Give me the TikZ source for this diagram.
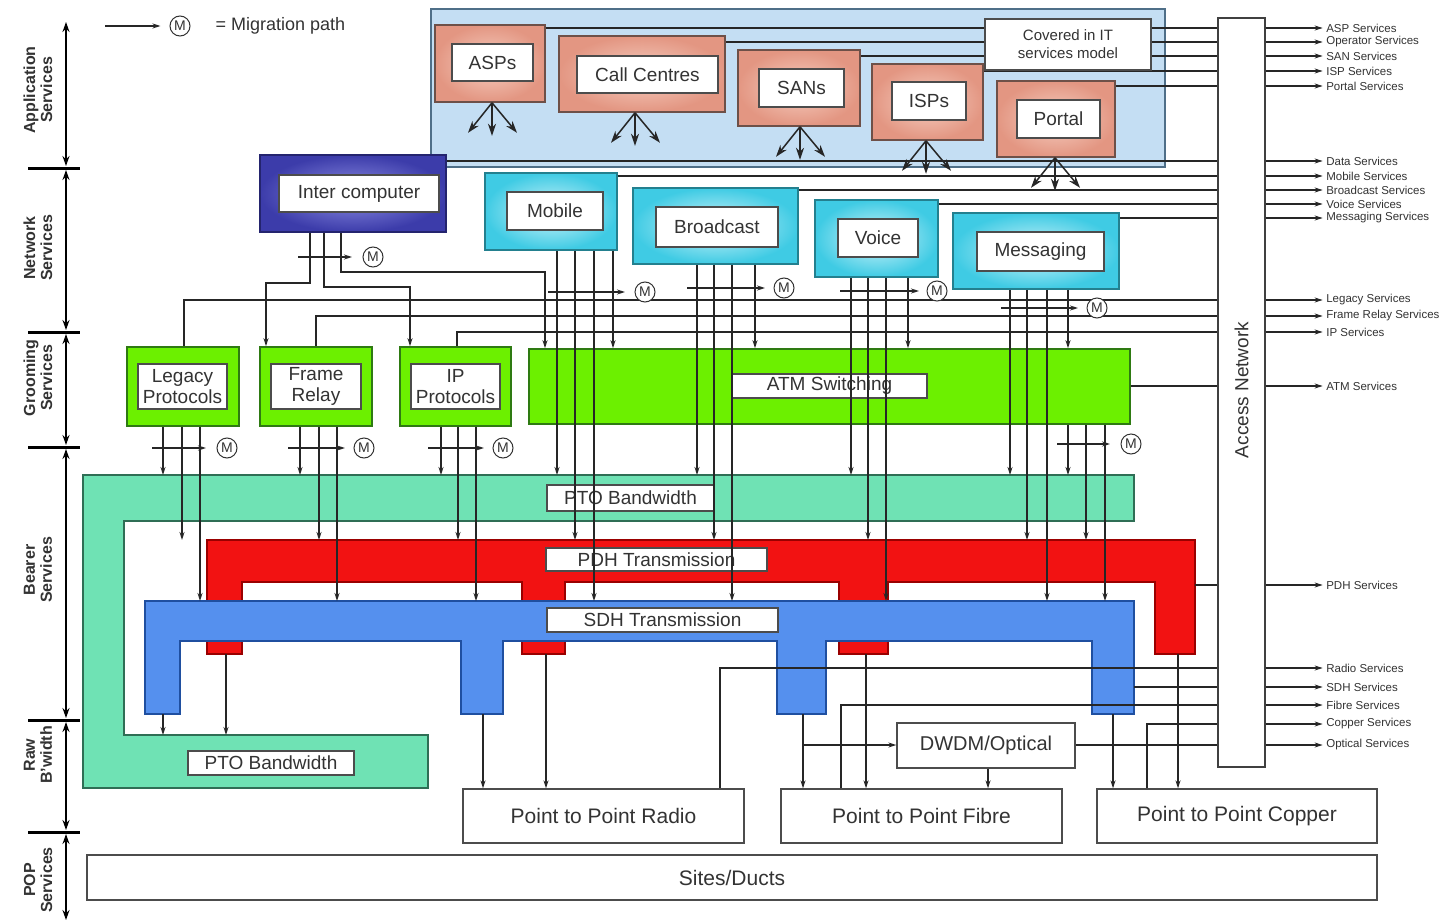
\documentclass[tikz,border=0pt]{standalone}
\usepackage{fontspec}
\setmainfont{Liberation Sans}
\usetikzlibrary{arrows.meta,fit}
\definecolor{appbg}{HTML}{C4DEF3}
\definecolor{appbd}{HTML}{4F6F88}
\definecolor{salm}{HTML}{E39682}
\definecolor{salmi}{HTML}{F6CFC2}
\definecolor{salmd}{HTML}{6E5048}
\definecolor{cyanf}{HTML}{3FCBE4}
\definecolor{cyani}{HTML}{D2F4FA}
\definecolor{cyand}{HTML}{23808F}
\definecolor{interf}{HTML}{3C3CAA}
\definecolor{interi}{HTML}{9090E4}
\definecolor{interd}{HTML}{24246E}
\definecolor{grn}{HTML}{6CF000}
\definecolor{grnd}{HTML}{2E7A12}
\definecolor{ptof}{HTML}{6FE2B4}
\definecolor{ptod}{HTML}{2F6E55}
\definecolor{pdhf}{HTML}{F21212}
\definecolor{pdhd}{HTML}{9A0000}
\definecolor{sdhf}{HTML}{5590EE}
\definecolor{sdhd}{HTML}{1F4FA0}
\definecolor{txt}{HTML}{333333}
\newcommand\myfs[2]{\fontsize{#1}{#2}\selectfont}
\newcommand\mig[5]{\draw[arr] (#2,#1) -- (#3,#1); \node[mc] (#5) at (#4,#1) {M};}
\newcommand\fk[2]{\foreach \dx/\dy in {-24/30,0/33,25/30}{\draw[fork] (#1.south -| #2,0) -- ++(\dx,\dy);}}
\newcommand\tbox[5][]{\node[wb,fit={(#3)(#4)}] (#2) {}; \node[wbt,#1] (#2T) at (#2.center) {#5};}
\begin{document}
\begin{tikzpicture}[x=1pt,y=-1pt,
  ln/.style={line width=1.3pt, draw=black!85},
  arr/.style={ln, -{Stealth[length=8pt,width=5pt]}},
  fork/.style={line width=1.5pt, draw=black!85, -{Stealth[length=12pt,width=8pt]}},
  bx/.style={draw, inner sep=0pt, line width=1.6pt},
  wb/.style={bx, fill=white, draw=black!70, line width=1.3pt},
  wbt/.style={inner sep=0pt, font=\myfs{19}{21}, align=center, text=txt},
  salmbox/.style={bx, inner color=salmi, outer color=salm, draw=salmd},
  cybox/.style={bx, inner color=cyani, outer color=cyanf, draw=cyand},
  grbox/.style={bx, fill=grn, draw=grnd},
  mc/.style={circle, draw=black!80, fill=white, line width=1pt, inner sep=0pt, minimum size=20pt, font=\myfs{14}{14}, text=txt},
  svc/.style={anchor=west, font=\myfs{11.5}{12}, inner sep=3pt, text=txt},
  axl/.style={rotate=90, font=\bfseries\myfs{16}{17}, align=center, text=txt},
  axa/.style={line width=2.4pt, {Stealth[length=10pt,width=7pt]}-{Stealth[length=10pt,width=7pt]}}
]
\fill[white] (0,0) rectangle (1450,923);
\useasboundingbox (0,0) rectangle (1450,923);

% ---- left axis
\foreach \y in {168,332,447,720,832}{\draw[line width=3pt] (28,\y) -- (80,\y);}
\draw[axa] (66,22) -- (66,166);
\draw[axa] (66,170) -- (66,330);
\draw[axa] (66,334) -- (66,445);
\draw[axa] (66,449) -- (66,718);
\draw[axa] (66,722) -- (66,830);
\draw[axa] (66,834) -- (66,920);
\node[axl] (ax1) at (38,90) {Application\\Services};
\node[axl] (ax2) at (38,248) {Network\\Services};
\node[axl] (ax3) at (38,378) {Grooming\\Services};
\node[axl] (ax4) at (38,570) {Bearer\\Services};
\node[axl] (ax5) at (38,755) {Raw\\B'width};
\node[axl] (ax6) at (38,880) {POP\\Services};

% ---- legend
\node[mc] (legM) at (180,26) {M};
\coordinate (legS) at (105,26);
\draw[arr] (legS) -- ([xshift=-9pt]legM.west);
\node[anchor=west, font=\myfs{18}{20}, text=txt] (legT) at (212,26) {= Migration path};

% ---- access network
\node[bx, fill=white, draw=black!75, line width=1.3pt, fit={(1218,18)(1265,767)}] (acc) {};
\node[rotate=90, font=\myfs{19}{20}, text=txt] (accT) at (1241.5,390) {Access Network};

% ---- application services
\node[bx, fill=appbg, draw=appbd, fit={(431,9)(1165,167)}] (app) {};
\node[salmbox, fit={(435,25)(545,102)}] (asp) {};
\tbox{aspL}{452,44}{533,81}{ASPs}
\node[salmbox, fit={(559,36)(725,112)}] (cc) {};
\tbox{ccL}{577,56}{718,93}{Call Centres}
\node[salmbox, fit={(738,50)(860,126)}] (san) {};
\tbox{sanL}{759,69}{844,107}{SANs}
\node[salmbox, fit={(872,64)(983,140)}] (isp) {};
\tbox{ispL}{892,82}{966,120}{ISPs}
\node[salmbox, fit={(997,81)(1115,157)}] (portal) {};
\tbox{portalL}{1017,100}{1100,138}{Portal}
\fk{asp}{492}
\fk{cc}{635}
\fk{san}{800}
\fk{isp}{926}
\fk{portal}{1055}
\draw[ln] (asp.east |- 0,28) -- (acc.west |- 0,28);
\draw[ln] (cc.east |- 0,42) -- (acc.west |- 0,42);
\draw[ln] (san.east |- 0,56) -- (acc.west |- 0,56);
\draw[ln] (isp.east |- 0,71) -- (acc.west |- 0,71);
\draw[ln] (portal.east |- 0,86) -- (acc.west |- 0,86);
\tbox[font=\myfs{15}{18}]{cov}{985,19}{1151,70}{Covered in IT\\services model}

% ---- network services
\node[bx, inner color=interi, outer color=interf, draw=interd, fit={(260,155)(446,232)}] (inter) {};
\tbox{interL}{279,175}{439,212}{Inter computer}
\node[cybox, fit={(485,173)(617,250)}] (mob) {};
\tbox{mobL}{507,192}{603,230}{Mobile}
\node[cybox, fit={(633,188)(798,264)}] (brd) {};
\tbox{brdL}{656,207}{778,247}{Broadcast}
\node[cybox, fit={(815,200)(938,277)}] (voi) {};
\tbox{voiL}{838,219}{918,257}{Voice}
\node[cybox, fit={(953,213)(1119,289)}] (msg) {};
\tbox{msgL}{977,232}{1104,271}{Messaging}
\draw[ln] (inter.east |- 0,161) -- (acc.west |- 0,161);
\draw[ln] (mob.east |- 0,176) -- (acc.west |- 0,176);
\draw[ln] (brd.east |- 0,190) -- (acc.west |- 0,190);
\draw[ln] (voi.east |- 0,204) -- (acc.west |- 0,204);
\draw[ln] (msg.east |- 0,218) -- (acc.west |- 0,218);

% ---- bearer services
\coordinate (ptoT) at (0,475);
\coordinate (ptoB) at (0,735);
\coordinate (pdhT) at (0,540);
\coordinate (sdhT) at (0,601);
\filldraw[fill=ptof, draw=ptod, line width=1.5pt] (83,475) -- (1134,475) -- (1134,521) -- (124,521) -- (124,735) -- (428,735) -- (428,788) -- (83,788) -- cycle;
\tbox{ptoL1}{547,485}{714,511}{PTO Bandwidth}
\tbox{ptoL2}{188,751}{354,775}{PTO Bandwidth}
\filldraw[fill=pdhf, draw=pdhd, line width=1.2pt] (207,540) -- (1195,540) -- (1195,654) -- (1155,654) -- (1155,582) -- (888,582) -- (888,654) -- (839,654) -- (839,582) -- (565,582) -- (565,654) -- (522,654) -- (522,582) -- (242,582) -- (242,654) -- (207,654) -- cycle;
\tbox{pdhL}{546,548}{767,571}{PDH Transmission}
\filldraw[fill=sdhf, draw=sdhd, line width=1.2pt] (145,601) -- (1134,601) -- (1134,714) -- (1092,714) -- (1092,641) -- (826,641) -- (826,714) -- (777,714) -- (777,641) -- (503,641) -- (503,714) -- (461,714) -- (461,641) -- (180,641) -- (180,714) -- (145,714) -- cycle;
\tbox{sdhL}{547,608}{778,632}{SDH Transmission}

% ---- grooming services
\node[grbox, fit={(127,347)(239,426)}] (leg) {};
\tbox{legL}{138,364}{227,409}{Legacy\\Protocols}
\node[grbox, fit={(260,347)(372,426)}] (fr) {};
\tbox{frL}{271,364}{361,409}{Frame\\Relay}
\node[grbox, fit={(400,347)(511,426)}] (ipp) {};
\tbox{ippL}{411,364}{500,409}{IP\\Protocols}
\node[grbox, fit={(529,349)(1130,424)}] (atm) {};
\tbox{atmL}{732,374}{927,398}{ATM Switching}

% ---- raw bandwidth / POP
\tbox[font=\myfs{21}{22}]{radio}{463,789}{744,843}{Point to Point Radio}
\tbox[font=\myfs{21}{22}]{fibre}{781,789}{1062,843}{Point to Point Fibre}
\tbox[font=\myfs{21}{22}]{copper}{1097,789}{1377,843}{Point to Point Copper}
\tbox[font=\myfs{21}{22}]{sites}{87,855}{1377,900}{Sites/Ducts}
\tbox[font=\myfs{20}{22}]{dwdm}{897,723}{1075,768}{DWDM/Optical}

% ---- grooming connectors to access network
\draw[ln] (leg.north -| 184,0) -- (184,300) -- (acc.west |- 0,300);
\draw[ln] (fr.north -| 316,0) -- (316,316) -- (acc.west |- 0,316);
\draw[ln] (ipp.north -| 457,0) -- (457,332) -- (acc.west |- 0,332);

% ---- inter computer connectors
\draw[arr] (inter.south -| 310,0) -- (310,283) -- (266,283) -- (fr.north -| 266,0);
\draw[arr] (inter.south -| 324,0) -- (324,287) -- (410,287) -- (ipp.north -| 410,0);
\draw[arr] (inter.south -| 341,0) -- (341,272) -- (545,272) -- (atm.north -| 545,0);
\mig{257}{298}{352}{373}{m1}

% ---- network service verticals
\foreach \x/\t in {557/ptoT,575/pdhT,594/sdhT}{\draw[arr] (mob.south -| \x,0) -- (\t -| \x,0);}
\draw[arr] (mob.south -| 613,0) -- (atm.north -| 613,0);
\foreach \x/\t in {697/ptoT,714/pdhT,732/sdhT}{\draw[arr] (brd.south -| \x,0) -- (\t -| \x,0);}
\draw[arr] (brd.south -| 755,0) -- (atm.north -| 755,0);
\foreach \x/\t in {851/ptoT,868/pdhT,886/sdhT}{\draw[arr] (voi.south -| \x,0) -- (\t -| \x,0);}
\draw[arr] (voi.south -| 908,0) -- (atm.north -| 908,0);
\foreach \x/\t in {1010/ptoT,1027/pdhT,1047/sdhT}{\draw[arr] (msg.south -| \x,0) -- (\t -| \x,0);}
\draw[arr] (msg.south -| 1068,0) -- (atm.north -| 1068,0);
\mig{292}{548}{625}{645}{m2}
\mig{288}{687}{765}{784}{m3}
\mig{291}{840}{919}{937}{m4}
\mig{308}{1001}{1078}{1097}{m5}

% ---- ATM outputs
\foreach \x/\t in {1068/ptoT,1086/pdhT,1105/sdhT}{\draw[arr] (atm.south -| \x,0) -- (\t -| \x,0);}
\mig{444}{1057}{1110}{1131}{m6}
\draw[ln] (atm.east |- 0,386) -- (acc.west |- 0,386);

% ---- grooming outputs
\foreach \x/\t in {163/ptoT,182/pdhT,200/sdhT}{\draw[arr] (leg.south -| \x,0) -- (\t -| \x,0);}
\mig{448}{152}{206}{227}{m7}
\foreach \x/\t in {300/ptoT,319/pdhT,337/sdhT}{\draw[arr] (fr.south -| \x,0) -- (\t -| \x,0);}
\mig{448}{288}{345}{364}{m8}
\foreach \x/\t in {441/ptoT,458/pdhT,476/sdhT}{\draw[arr] (ipp.south -| \x,0) -- (\t -| \x,0);}
\mig{448}{428}{484}{503}{m9}

% ---- bearer to raw bandwidth
\coordinate (pdhR) at (1195,585);
\draw[ln] (pdhR) -- (acc.west |- pdhR);
\draw[arr] (163,714) -- (ptoB -| 163,0);
\draw[arr] (226,654) -- (ptoB -| 226,0);
\draw[arr] (483,714) -- (radio.north -| 483,0);
\draw[arr] (546,654) -- (radio.north -| 546,0);
\draw[ln] (radio.north -| 720,0) -- (720,668) -- (acc.west |- 0,668);
\draw[arr] (803,714) -- (fibre.north -| 803,0);
\draw[arr] (803,745) -- (dwdm.west |- 0,745);
\draw[arr] (866,654) -- (fibre.north -| 866,0);
\draw[ln] (fibre.north -| 841,0) -- (841,705) -- (acc.west |- 0,705);
\draw[arr] (dwdm.south -| 988,0) -- (fibre.north -| 988,0);
\draw[ln] (dwdm.east |- 0,745) -- (acc.west |- 0,745);
\draw[arr] (1113,714) -- (copper.north -| 1113,0);
\draw[ln] (1134,687) -- (acc.west |- 0,687);
\draw[arr] (1178,654) -- (copper.north -| 1178,0);
\draw[ln] (copper.north -| 1147,0) -- (1147,724) -- (acc.west |- 0,724);

% ---- service outputs
\foreach \y/\t [count=\i] in {28/ASP Services,42/Operator Services,56/SAN Services,71/ISP Services,86/Portal Services,161/Data Services,176/Mobile Services,190/Broadcast Services,204/Voice Services,218/Messaging Services,300/Legacy Services,316/Frame Relay Services,332/IP Services,386/ATM Services,585/PDH Services,668/Radio Services,687/SDH Services,705/Fibre Services,724/Copper Services,745/Optical Services}{
  \draw[arr] (acc.east |- 0,\y) -- ++(57,0) node[svc] (svc\i) {\t};
}
\end{tikzpicture}
\end{document}
